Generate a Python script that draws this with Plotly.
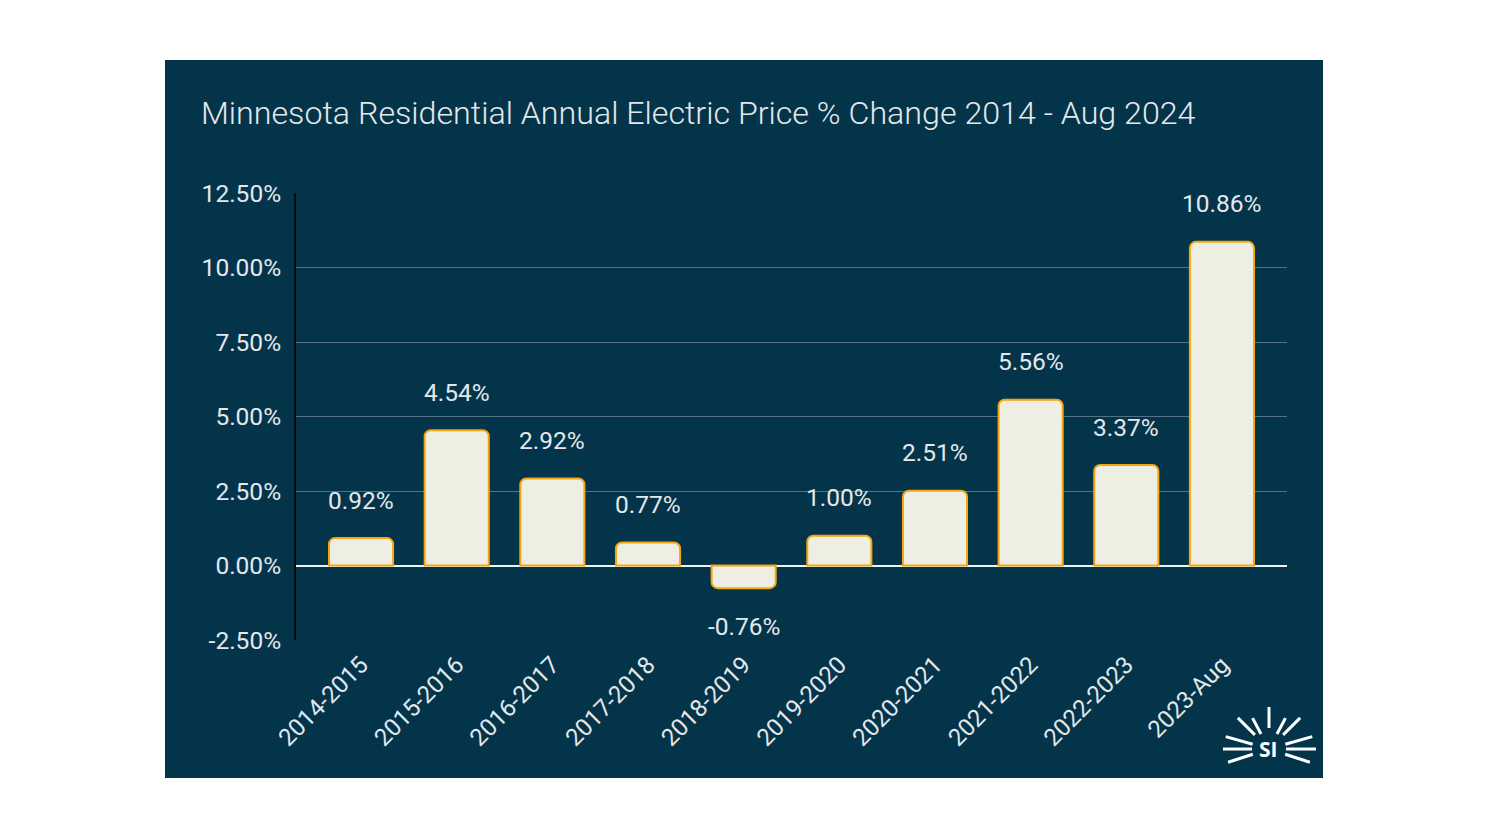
import math
import plotly.graph_objects as go

# ---- data ----
categories = ["2014-2015", "2015-2016", "2016-2017", "2017-2018", "2018-2019",
              "2019-2020", "2020-2021", "2021-2022", "2022-2023", "2023-Aug"]
pct_change = [0.92, 4.54, 2.92, 0.77, -0.76, 1.00, 2.51, 5.56, 3.37, 10.86]
y_ticks = [-2.5, 0, 2.5, 5, 7.5, 10, 12.5]
y_tick_labels = ["-2.50%", "0.00%", "2.50%", "5.00%", "7.50%", "10.00%", "12.50%"]
title_text = "Minnesota Residential Annual Electric Price % Change 2014 - Aug 2024"

# ---- layout geometry ----
W, H = 1488, 837
L, R, T, B = 296, 201, 193, 197
PW, PH = W - L - R, H - T - B

def px(x):
    return (x - L) / PW

def py(y):
    return (H - B - y) / PH

BG = "#04344A"
TXT = "#E4E8EA"
FONT = "Roboto"

fig = go.Figure()
fig.add_trace(go.Bar(
    x=categories, y=pct_change,
    marker=dict(color="#EEEFE2", line=dict(color="#F5A60F", width=2), cornerradius=6),
    width=0.67,
    hoverinfo="skip",
))

annotations = []
for c, v in zip(categories, pct_change):
    annotations.append(dict(
        x=c, y=v, xref="x", yref="y", text=f"{v:.2f}%", showarrow=False,
        yanchor="middle", xanchor="center", yshift=38 if v >= 0 else -38,
        font=dict(family=FONT, size=24.5, color=TXT),
    ))
annotations.append(dict(
    x=px(199), y=py(113), xref="paper", yref="paper", text=title_text,
    showarrow=False, xanchor="left", yanchor="middle",
    font=dict(family=FONT, size=32.2, color=TXT, weight=300),
))
# logo text
annotations.append(dict(
    x=px(1268), y=py(749), xref="paper", yref="paper", text="<b>SI</b>",
    showarrow=False, xanchor="center", yanchor="middle",
    font=dict(family="Open Sans", size=21, color="white"),
))

shapes = [dict(
    type="rect", xref="paper", yref="paper", layer="below",
    x0=px(165), x1=px(1323), y0=py(778), y1=py(60),
    fillcolor=BG, line=dict(width=0),
)]

# logo rays (decoration)
cx, cy = 1269, 749
rays = [(90, 21, 42), (118, 17, 35), (135, 20, 44), (164, 17, 45), (180, 17, 46), (198, 17, 43),
        (62, 17, 35), (45, 20, 44), (16, 17, 45), (0, 17, 47), (-18, 17, 43)]
for ang, r0, r1 in rays:
    a = math.radians(ang)
    x0, y0 = cx + r0 * math.cos(a), cy - r0 * math.sin(a)
    x1, y1 = cx + r1 * math.cos(a), cy - r1 * math.sin(a)
    shapes.append(dict(type="line", xref="paper", yref="paper",
                       x0=px(x0), y0=py(y0), x1=px(x1), y1=py(y1),
                       line=dict(color="white", width=3)))

fig.update_layout(
    width=W, height=H,
    margin=dict(l=L, r=R, t=T, b=B, pad=0),
    paper_bgcolor="white",
    plot_bgcolor=BG,
    showlegend=False,
    shapes=shapes,
    annotations=annotations,
    font=dict(family=FONT, color=TXT),
)
fig.update_xaxes(
    type="category", range=[-0.68, 9.68], tickangle=-45,
    tickfont=dict(family=FONT, size=24, color=TXT),
    showgrid=False, showline=False, ticks="", ticklabelstandoff=5,
)
fig.update_yaxes(
    range=[-2.5, 12.5], tickvals=y_ticks, ticktext=y_tick_labels,
    tickfont=dict(family=FONT, size=24.5, color=TXT),
    showgrid=True, gridcolor="#557282", gridwidth=1,
    zeroline=True, zerolinecolor="#F2F2F2", zerolinewidth=2,
    showline=True, linecolor="#0A0A0A", linewidth=2,
    ticks="", ticklabelstandoff=8,
)

fig.write_html("out.html")
